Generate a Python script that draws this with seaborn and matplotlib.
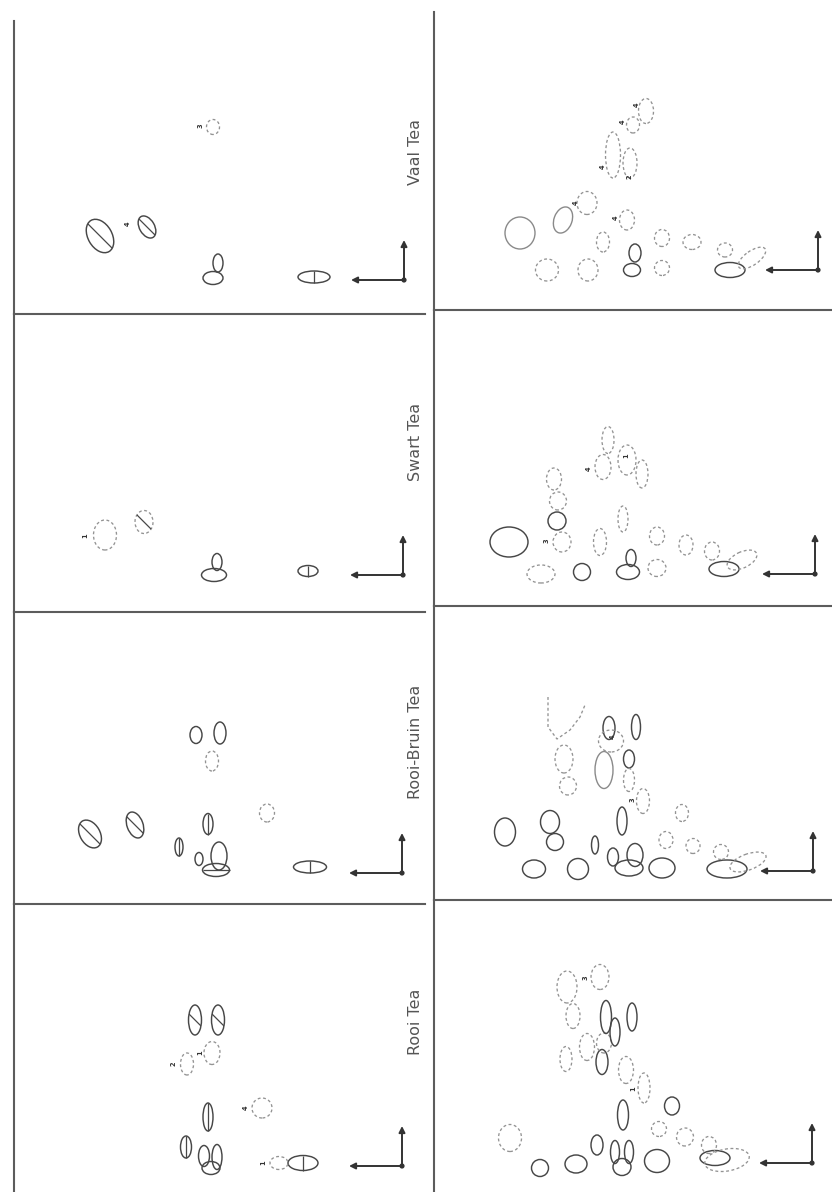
import numpy as np
import pandas as pd
import matplotlib
matplotlib.use("Agg")
import matplotlib.pyplot as plt
from matplotlib.patches import Ellipse
import seaborn as sns

# Two-dimensional chromatograms of four teas.
# Each spot: distance run in the first direction (x, leftwards from the origin),
# distance run in the second direction (y, upwards), spot extent w x h,
# tilt in degrees, outline kind and an optional inner stroke.
TEAS = ["Vaal Tea", "Swart Tea", "Rooi-Bruin Tea", "Rooi Tea"]

vaal_a = [
    (304, 44, 36, 24, 60, "solid", "/"),
    (257, 53, 24, 15, 60, "solid", "/"),
    (191, 153, 13, 15, 0, "dashed", ""),
    (186, 17, 10, 18, 0, "solid", ""),
    (191, 2, 20, 13, 0, "solid", ""),
    (90, 3, 32, 12, 0, "solid", "|"),
]
vaal_a_labels = [(276, 56, "4"), (203, 154, "3")]

swart_a = [
    (298, 40, 23, 30, 0, "dashed", ""),
    (259, 53, 18, 23, 0, "dashed", "/"),
    (186, 13, 10, 17, 0, "solid", ""),
    (189, 0, 25, 13, 0, "solid", ""),
    (95, 4, 20, 11, 0, "solid", "|"),
]
swart_a_labels = [(318, 39, "1")]

rooibruin_a = [
    (312, 39, 30, 20, 60, "solid", "/"),
    (267, 48, 27, 16, 70, "solid", "/"),
    (206, 138, 12, 17, 0, "solid", ""),
    (182, 140, 12, 22, 0, "solid", ""),
    (190, 112, 13, 20, 0, "dashed", ""),
    (135, 60, 15, 18, 0, "dashed", ""),
    (194, 49, 10, 21, 0, "solid", "|"),
    (223, 26, 8, 18, 0, "solid", "|"),
    (203, 14, 8, 13, 0, "solid", ""),
    (183, 17, 16, 28, 0, "solid", ""),
    (186, 3, 27, 13, 0, "solid", "-"),
    (92, 6, 33, 12, 0, "solid", "|"),
]
rooibruin_a_labels = []

rooi_a = [
    (207, 146, 13, 30, 0, "solid", "/"),
    (184, 146, 13, 30, 0, "solid", "/"),
    (190, 113, 16, 23, 0, "dashed", ""),
    (215, 102, 13, 22, 0, "dashed", ""),
    (194, 49, 10, 28, 0, "solid", "|"),
    (140, 58, 20, 20, 0, "dashed", ""),
    (216, 19, 11, 22, 0, "solid", "|"),
    (198, 10, 11, 21, 0, "solid", ""),
    (185, 9, 10, 25, 0, "solid", ""),
    (191, -2, 18, 13, 0, "solid", ""),
    (99, 3, 30, 15, 0, "solid", "|"),
    (123, 3, 18, 13, 0, "dashed", ""),
]
rooi_a_labels = [(202, 113, "1"), (228, 102, "2"), (156, 58, "4"), (139, 3, "1")]

vaal_b = [
    (298, 37, 30, 32, 0, "pale", ""),
    (255, 50, 27, 18, 110, "pale", ""),
    (231, 67, 20, 23, 0, "dashed", ""),
    (215, 28, 13, 20, 0, "dashed", ""),
    (191, 50, 15, 20, 0, "dashed", ""),
    (183, 17, 12, 18, 0, "solid", ""),
    (186, 0, 17, 13, 0, "solid", ""),
    (156, 32, 15, 17, 0, "dashed", ""),
    (126, 28, 18, 15, 0, "dashed", ""),
    (156, 2, 15, 15, 0, "dashed", ""),
    (271, 0, 23, 22, 0, "dashed", ""),
    (230, 0, 20, 22, 0, "dashed", ""),
    (93, 20, 15, 14, 0, "dashed", ""),
    (88, 0, 30, 15, 0, "solid", ""),
    (66, 12, 32, 14, 145, "dashed", ""),
    (172, 159, 15, 25, 0, "dashed", ""),
    (185, 145, 13, 16, 0, "dashed", ""),
    (205, 115, 15, 46, 0, "dashed", ""),
    (188, 107, 14, 30, 0, "dashed", ""),
]
vaal_b_labels = [(242, 67, "4"), (202, 52, "4"), (181, 165, "4"),
                 (195, 148, "4"), (215, 103, "4"), (189, 93, "2")]

swart_b = [
    (306, 32, 38, 30, 0, "solid", ""),
    (258, 53, 18, 18, 0, "solid", ""),
    (253, 32, 18, 20, 0, "dashed", ""),
    (257, 73, 17, 18, 0, "dashed", ""),
    (261, 95, 15, 22, 0, "dashed", ""),
    (274, 0, 28, 18, 0, "dashed", ""),
    (233, 2, 17, 17, 0, "solid", ""),
    (215, 32, 13, 27, 0, "dashed", ""),
    (192, 55, 10, 26, 0, "dashed", ""),
    (184, 16, 10, 17, 0, "solid", ""),
    (187, 2, 23, 15, 0, "solid", ""),
    (158, 6, 18, 17, 0, "dashed", ""),
    (158, 38, 15, 18, 0, "dashed", ""),
    (129, 29, 14, 20, 0, "dashed", ""),
    (103, 23, 15, 18, 0, "dashed", ""),
    (91, 5, 30, 15, 0, "solid", ""),
    (73, 14, 32, 16, 155, "dashed", ""),
    (207, 134, 12, 27, 0, "dashed", ""),
    (212, 107, 16, 25, 0, "dashed", ""),
    (188, 114, 18, 30, 0, "dashed", ""),
    (173, 100, 12, 28, 0, "dashed", ""),
]
swart_b_labels = [(268, 33, "3"), (226, 105, "4"), (189, 118, "1")]

rooibruin_b = [
    (308, 39, 21, 28, 0, "solid", ""),
    (263, 49, 19, 23, 0, "solid", ""),
    (258, 29, 17, 17, 0, "solid", ""),
    (279, 2, 23, 18, 0, "solid", ""),
    (235, 2, 21, 21, 0, "solid", ""),
    (218, 26, 7, 18, 0, "solid", ""),
    (191, 50, 10, 28, 0, "solid", ""),
    (200, 14, 11, 18, 0, "solid", ""),
    (178, 16, 16, 23, 0, "solid", ""),
    (184, 3, 28, 16, 0, "solid", ""),
    (151, 3, 26, 20, 0, "solid", ""),
    (86, 2, 40, 18, 0, "solid", ""),
    (65, 9, 38, 16, 160, "dashed", ""),
    (92, 19, 15, 15, 0, "dashed", ""),
    (120, 25, 14, 15, 0, "dashed", ""),
    (147, 31, 14, 17, 0, "dashed", ""),
    (131, 58, 13, 17, 0, "dashed", ""),
    (170, 70, 13, 25, 0, "dashed", ""),
    (184, 112, 11, 18, 0, "solid", ""),
    (184, 91, 11, 23, 0, "dashed", ""),
    (177, 144, 9, 25, 0, "solid", ""),
    (204, 143, 12, 23, 0, "solid", ""),
    (209, 101, 18, 37, 0, "pale", ""),
    (202, 130, 25, 22, 0, "dashed", ""),
    (245, 85, 17, 18, 0, "dashed", ""),
    (249, 112, 18, 28, 0, "dashed", ""),
]
rooibruin_b_labels = [(180, 71, "3"), (200, 134, "4")]
# open streak outline above the left group
rooibruin_b_streak_x = [265, 265, 256, 243, 233, 228]
rooibruin_b_streak_y = [174, 144, 132, 141, 154, 166]

rooi_b = [
    (302, 25, 23, 27, 0, "dashed", ""),
    (272, -5, 17, 17, 0, "solid", ""),
    (236, -1, 22, 18, 0, "solid", ""),
    (215, 18, 12, 20, 0, "solid", ""),
    (197, 11, 9, 23, 0, "solid", ""),
    (183, 11, 9, 23, 0, "solid", ""),
    (190, -4, 18, 17, 0, "solid", ""),
    (155, 2, 25, 23, 0, "solid", ""),
    (97, 5, 30, 15, 0, "solid", ""),
    (85, 3, 45, 22, 170, "dashed", ""),
    (103, 18, 15, 17, 0, "dashed", ""),
    (127, 26, 17, 18, 0, "dashed", ""),
    (153, 34, 15, 15, 0, "dashed", ""),
    (140, 57, 15, 18, 0, "solid", ""),
    (189, 48, 11, 30, 0, "solid", ""),
    (168, 75, 12, 30, 0, "dashed", ""),
    (186, 93, 15, 27, 0, "dashed", ""),
    (210, 101, 12, 25, 0, "solid", ""),
    (225, 116, 15, 27, 0, "dashed", ""),
    (246, 104, 12, 25, 0, "dashed", ""),
    (208, 120, 15, 20, 0, "dashed", ""),
    (197, 131, 10, 28, 0, "solid", ""),
    (206, 146, 11, 33, 0, "solid", ""),
    (180, 146, 10, 28, 0, "solid", ""),
    (239, 147, 14, 25, 0, "dashed", ""),
    (245, 176, 20, 32, 0, "dashed", ""),
    (212, 186, 18, 25, 0, "dashed", ""),
]
rooi_b_labels = [(179, 74, "1"), (226, 185, "3")]

COLUMNS = ["x", "y", "w", "h", "angle", "kind", "mark"]

# ---------------------------------------------------------------- layout
W, H = 832, 1192
COL_X = [(14, 425), (434, 832)]
ROWS = [
    [(21, 314), (314, 612), (612, 904), (904, 1192)],
    [(12, 310), (310, 606), (606, 900), (900, 1192)],
]
ORIGINS = [
    [(404, 280), (403, 575), (402, 873), (402, 1166)],
    [(818, 270), (815, 574), (813, 871), (812, 1163)],
]
TITLE_X = 415
TITLE_Y = [152, 442, 742, 1022]

STYLE = {
    "solid": dict(edgecolor="#474747", linewidth=1.05, linestyle="-"),
    "pale": dict(edgecolor="#8a8a8a", linewidth=1.0, linestyle="-"),
    "dashed": dict(edgecolor="#939393", linewidth=0.95, linestyle=(0, (2.2, 1.9))),
}
MARK_DIR = {"/": 45, "|": 90, "-": 0}
INK = "#333333"

sns.set_theme(style="white")
plt.rcParams["font.family"] = ["DejaVu Sans"]

fig = plt.figure(figsize=(W / 100, H / 100), dpi=100)
fig.patch.set_facecolor("white")


def draw_panel(ax, spots, labels, streak=None):
    df = pd.DataFrame(spots, columns=COLUMNS)
    for r in df.itertuples():
        ax.add_patch(Ellipse((r.x, r.y), r.w, r.h, angle=r.angle,
                             facecolor="none", **STYLE[r.kind]))
        if r.mark:
            phi = np.deg2rad(MARK_DIR[r.mark])
            d = phi - np.deg2rad(r.angle)
            rad = 1.0 / np.sqrt((np.cos(d) / (r.w / 2)) ** 2 + (np.sin(d) / (r.h / 2)) ** 2)
            ax.plot([r.x - rad * np.cos(phi), r.x + rad * np.cos(phi)],
                    [r.y - rad * np.sin(phi), r.y + rad * np.sin(phi)],
                    color="#474747", lw=0.9, solid_capstyle="butt")
    if streak is not None:
        ax.plot(streak[0], streak[1], color="#939393", lw=0.95, ls=(0, (2.2, 1.9)))
    for lx, ly, txt in labels:
        ax.text(lx, ly, txt, rotation=90, fontsize=4.8, color=INK,
                fontweight="bold", ha="center", va="center")
    # application point with the two development directions
    sns.scatterplot(x=[0], y=[0], ax=ax, s=14, color=INK, edgecolor="none",
                    legend=False, zorder=5)
    arrow = dict(arrowstyle="-|>", color=INK, lw=1.4, mutation_scale=9,
                 shrinkA=0, shrinkB=0)
    ax.annotate("", xy=(0, 40), xytext=(0, 0), arrowprops=arrow)
    ax.annotate("", xy=(53, 0), xytext=(0, 0), arrowprops=arrow)


panels = [
    [(vaal_a, vaal_a_labels, None), (swart_a, swart_a_labels, None),
     (rooibruin_a, rooibruin_a_labels, None), (rooi_a, rooi_a_labels, None)],
    [(vaal_b, vaal_b_labels, None), (swart_b, swart_b_labels, None),
     (rooibruin_b, rooibruin_b_labels, (rooibruin_b_streak_x, rooibruin_b_streak_y)),
     (rooi_b, rooi_b_labels, None)],
]

for c in range(2):
    left, right = COL_X[c]
    for r in range(4):
        top, bottom = ROWS[c][r]
        ox, oy = ORIGINS[c][r]
        ax = fig.add_axes([left / W, 1 - bottom / H, (right - left) / W, (bottom - top) / H])
        ax.set_facecolor("none")
        spots, labels, streak = panels[c][r]
        draw_panel(ax, spots, labels, streak)
        # one data unit per pixel, x counted leftwards from the origin
        ax.set_xlim(ox - left, ox - right)
        ax.set_ylim(oy - bottom, oy - top)
        ax.set_xticks([])
        ax.set_yticks([])
        ax.set_xlabel("")
        ax.set_ylabel("")
        for side in ("right", "bottom"):
            ax.spines[side].set_visible(False)
        ax.spines["top"].set_visible(r > 0)
        for side in ("left", "top"):
            ax.spines[side].set_color("#5c5c5c")
            ax.spines[side].set_linewidth(1.5)

for name, ty in zip(TEAS, TITLE_Y):
    fig.text(TITLE_X / W, 1 - ty / H, name, rotation=90, ha="center", va="center",
             fontsize=11.5, color="#555555")

fig.savefig("out.png", dpi=100, facecolor="white")
